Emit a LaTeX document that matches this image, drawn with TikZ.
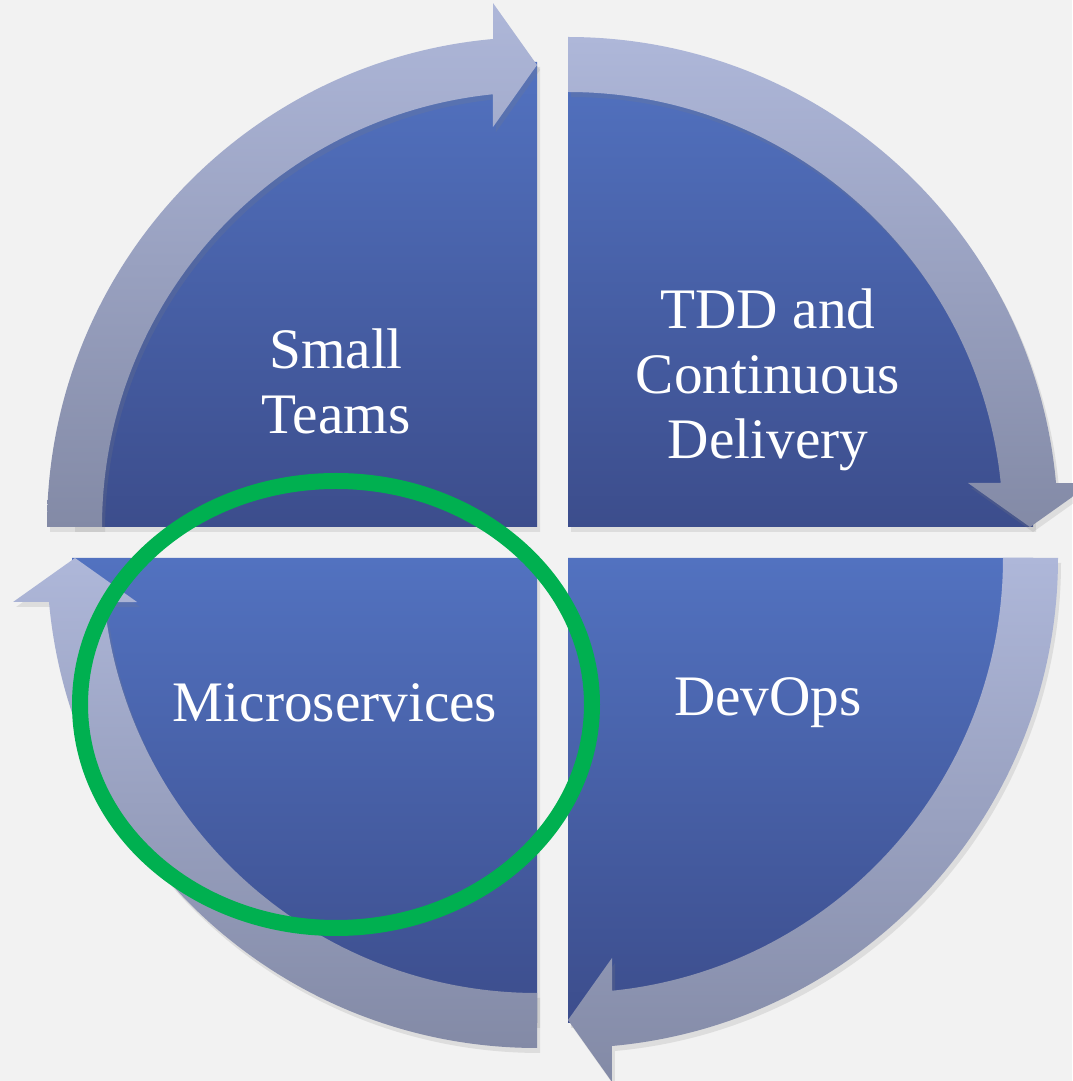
\documentclass[tikz,border=0pt]{standalone}
\usepackage{fontspec}
\setmainfont{Liberation Serif}
\usetikzlibrary{calc,shadows}

\definecolor{bggray}{HTML}{F2F2F2}
\definecolor{pietop}{HTML}{5272C0}
\definecolor{piebottom}{HTML}{3C4D8C}
\definecolor{arrowtop}{HTML}{AEB7D9}
\definecolor{arrowbottom}{HTML}{838AA6}
\definecolor{ringgreen}{HTML}{00B050}

\tikzset{
	quarter/.style={top color=pietop, bottom color=piebottom,
		drop shadow={shadow xshift=0.3mm, shadow yshift=-0.5mm, opacity=0.18}},
	turnarrow/.style={top color=arrowtop, bottom color=arrowbottom,
		drop shadow={shadow xshift=0.3mm, shadow yshift=-0.5mm, opacity=0.18}},
	areatext/.style={text=white, align=center, inner sep=0pt,
		font=\fontsize{16.3}{18.5}\selectfont},
	ring/.style={draw=ringgreen, line width=1.6mm}
}

\begin{document}
\begin{tikzpicture}[x=0.1mm, y=0.1mm]
	\fill[bggray] (0,0) rectangle (1072,1081);
	\useasboundingbox (0,0) rectangle (1072,1081);

	% corners of the four quarters
	\coordinate (tl) at (537,554);
	\coordinate (tr) at (568,554);
	\coordinate (br) at (568,523);
	\coordinate (bl) at (537,523);

	% quarters
	\foreach \c/\a in {tl/180, tr/90, br/0, bl/270}
		\path[quarter] (\c) -- ($(\c)+({\a-90}:465)$)
			arc[start angle=\a-90, end angle=\a, radius=465] -- cycle;

	% curved arrows, clockwise
	\foreach \c/\a in {tl/180, tr/90, br/0, bl/270}
		\path[turnarrow] ($(\c)+(\a:490)$)
			arc[start angle=\a, end angle=\a-84.85, radius=490]
			-- ($(\c)+({\a-85.2}:525.8)$)
			-- ($(\c)+({\a-90}:462)$)
			-- ($(\c)+({\a-83.72}:402.4)$)
			-- ($(\c)+({\a-84.19}:435)$)
			arc[start angle=\a-84.19, end angle=\a, radius=435] -- cycle;

	\node[areatext] (small)  at (336,700) {Small\\Teams};
	\node[areatext] (tdd)    at (768,701) {TDD and\\Continuous\\Delivery};
	\node[areatext] (micro)  at (335,378) {Microservices};
	\node[areatext] (devops) at (768,378) {DevOps};

	% highlight
	\draw[ring] (336,376.5) ellipse[x radius=256, y radius=223.5];
\end{tikzpicture}
\end{document}
